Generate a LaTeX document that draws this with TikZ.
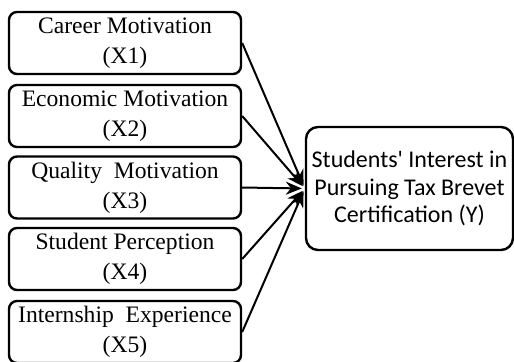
\documentclass[tikz,border=0pt]{standalone}
\usepackage{fontspec}
\setmainfont{Liberation Serif}
\newfontfamily\calibri{Carlito}
\usetikzlibrary{arrows.meta}

\begin{document}
\begin{tikzpicture}[x=0.5pt, y=-0.5pt,
  factor/.style={draw, line width=1.2pt, rounded corners=4pt, align=center,
    minimum width=116pt, minimum height=31pt, inner sep=0pt,
    font=\fontsize{11.8}{15}\selectfont},
  outcome/.style={draw, line width=1.2pt, rounded corners=6pt, align=center,
    minimum width=103.5pt, minimum height=61.5pt, inner sep=0pt,
    font=\calibri\fontsize{12}{13.8}\selectfont},
  link/.style={-{Stealth[length=8pt, width=6.5pt]}, line width=1pt, shorten >=1.5pt}]
\useasboundingbox (0,0) rectangle (514,361);

% independent variables
\node[factor] (x1) at (125,43)    {Career Motivation\\(X1)};
\node[factor] (x2) at (125,116)   {Economic Motivation\\(X2)};
\node[factor] (x3) at (125,187.5) {Quality\ \ Motivation\\(X3)};
\node[factor] (x4) at (125,259)   {Student Perception\\(X4)};
\node[factor] (x5) at (125,332)   {Internship\ \ Experience\\(X5)};

% dependent variable
\node[outcome] (y) at (409.5,188.5) {Students\textquotesingle{} Interest in\\Pursuing Tax Brevet\\Certification (Y)};

\foreach \v in {x1,x2,x3,x4,x5}
  \draw[link] (\v.east) -- (y.west);
\end{tikzpicture}
\end{document}
